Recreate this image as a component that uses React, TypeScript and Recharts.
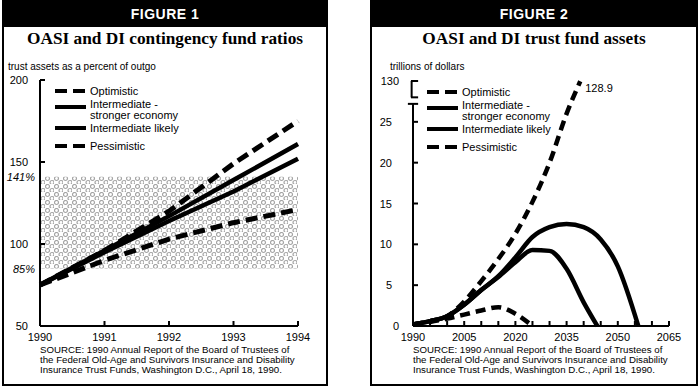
import React from 'react';
import { LineChart, Line, XAxis, YAxis, ReferenceArea, ReferenceLine } from 'recharts';

// Figure 1: contingency fund ratios (percent of outgo)
const years1 = [1990, 1991, 1992, 1993, 1994];
const optimistic1 = [75, 96, 120, 149, 175];
const stronger1 = [75, 96, 117, 139, 161];
const likely1 = [75, 95, 114, 132, 152];
const pessimistic1 = [75, 90, 103, 113, 121];
const yTicks1 = [50, 85, 100, 141, 150, 200];
const yLabels1 = ['50', '85%', '100', '141%', '150', '200'];
const band1 = [85, 141];

// Figure 2: trust fund assets (trillions of dollars)
const optYears2 = [1990, 1995, 2000, 2005, 2010, 2015, 2020, 2025, 2030, 2035, 2039];
const optimistic2 = [0.2, 0.6, 1.2, 3.0, 5.5, 8.2, 11.3, 15.2, 20.0, 26.0, 128.9];
const strongYears2 = [1990, 1995, 2000, 2005, 2010, 2015, 2020, 2025, 2030, 2035, 2040, 2045, 2050, 2056];
const stronger2 = [0.2, 0.6, 1.2, 2.6, 4.4, 6.1, 8.4, 10.9, 12.1, 12.5, 12.1, 10.6, 7.3, 0];
const likelyYears2 = [1990, 1995, 2000, 2005, 2010, 2015, 2020, 2025, 2030, 2035, 2040, 2044];
const likely2 = [0.2, 0.6, 1.2, 2.6, 4.4, 6.0, 7.8, 9.3, 9.2, 7.0, 2.9, 0];
const pessYears2 = [1990, 1995, 2000, 2005, 2010, 2015, 2020, 2025];
const pessimistic2 = [0.2, 0.5, 0.9, 1.4, 1.9, 2.3, 1.5, 0];
const xTicks2 = [1990, 1995, 2000, 2005, 2010, 2015, 2020, 2025, 2030, 2035, 2040, 2045, 2050, 2055, 2060, 2065];
const yTicks2 = [0, 5, 10, 15, 20, 25, 30];
const yLabels2 = ['0', '5', '10', '15', '20', '25', '130'];

const seriesNames = ['Optimistic', 'Intermediate -|stronger economy', 'Intermediate likely', 'Pessimistic'];
const seriesDashed = [true, false, false, true];

const sourceLines = [
  'SOURCE: 1990 Annual Report of the Board of Trustees of',
  'the Federal Old-Age and Survivors Insurance and Disability',
  'Insurance Trust Funds, Washington D.C., April 18, 1990.',
];

// broken axis: values above 27 are squeezed into the 27..30 strip that is labelled 130
const BREAK_LOW = 27;
const BREAK_TOP = 130;
const AXIS_TOP = 30;
const toAxis = (v: number) =>
  v <= BREAK_LOW ? v : BREAK_LOW + ((v - BREAK_LOW) * (AXIS_TOP - BREAK_LOW)) / (BREAK_TOP - BREAK_LOW);

const FONT = "'Liberation Sans', Arial, sans-serif";

const data1 = years1.map((year, i) => ({
  year,
  opt: optimistic1[i],
  strong: stronger1[i],
  likely: likely1[i],
  pess: pessimistic1[i],
}));

const toRows = (years: number[], vals: number[]) => years.map((year, i) => ({ year, v: toAxis(vals[i]), raw: vals[i] }));
const opt2 = toRows(optYears2, optimistic2);
const strong2 = toRows(strongYears2, stronger2);
const likely2Rows = toRows(likelyYears2, likely2);
const pess2 = toRows(pessYears2, pessimistic2);

function YTick1(props: any) {
  const { x, y, payload } = props;
  const i = yTicks1.indexOf(payload.value);
  const pct = yLabels1[i].endsWith('%');
  return (
    <g>
      {!pct && payload.value !== 50 && <line x1={x} x2={x + 5} y1={y} y2={y} stroke="#000" strokeWidth={2} />}
      <text
        x={pct ? x - 5 : x - 12}
        y={y + 4}
        textAnchor="end"
        fontSize={11}
        fontStyle={pct ? 'italic' : 'normal'}
        fontFamily={FONT}
        fill="#000"
      >
        {yLabels1[i]}
      </text>
    </g>
  );
}

function XTick(props: any) {
  const { x, y, payload, first, every } = props;
  const showLabel = (payload.value - first) % every === 0;
  return (
    <g>
      {payload.value !== first && <line x1={x} x2={x} y1={y} y2={y - 5} stroke="#000" strokeWidth={2} />}
      {showLabel && (
        <text x={x} y={y + 15} textAnchor="middle" fontSize={11} fontFamily={FONT} fill="#000">
          {payload.value}
        </text>
      )}
    </g>
  );
}

function YTick2(props: any) {
  const { x, y, payload } = props;
  const i = yTicks2.indexOf(payload.value);
  const edge = payload.value === 0 || payload.value === AXIS_TOP;
  return (
    <g>
      {!edge && <line x1={x} x2={x + 5} y1={y} y2={y} stroke="#000" strokeWidth={2} />}
      <text x={edge ? x - 14 : x - 21} y={y + 4} textAnchor="end" fontSize={11} fontFamily={FONT} fill="#000">
        {yLabels2[i]}
      </text>
    </g>
  );
}

function Legend({ left, top }: { left: number; top: number }) {
  const offsets = [0, 16, 37, 55];
  return (
    <svg width={160} height={70} style={{ position: 'absolute', left, top, overflow: 'visible' }}>
      {seriesNames.map((name, i) => {
        const y = offsets[i];
        const parts = name.split('|');
        return (
          <g key={name}>
            <line
              x1={0}
              x2={31}
              y1={y}
              y2={y}
              stroke="#000"
              strokeWidth={4}
              strokeDasharray={seriesDashed[i] ? '12 6' : undefined}
            />
            {parts.length === 1 ? (
              <text x={35} y={y + 4} fontSize={11} fontFamily={FONT}>
                {name}
              </text>
            ) : (
              <text x={35} y={y + 1} fontSize={11} fontFamily={FONT}>
                <tspan x={35}>{parts[0]}</tspan>
                <tspan x={35} dy={11}>
                  {parts[1]}
                </tspan>
              </text>
            )}
          </g>
        );
      })}
    </svg>
  );
}

function Panel({ left, width, figure, title }: { left: number; width: number; figure: string; title: string }) {
  return (
    <div
      style={{
        position: 'absolute',
        left,
        top: 0,
        width,
        height: 386,
        border: '2px solid #000',
        borderTop: 'none',
        boxSizing: 'border-box',
      }}
    >
      <div
        style={{
          background: '#000',
          color: '#fff',
          height: 27,
          lineHeight: '29px',
          textAlign: 'center',
          fontFamily: FONT,
          fontWeight: 'bold',
          fontSize: 14,
          letterSpacing: 0.5,
        }}
      >
        {figure}
      </div>
      <div
        style={{
          position: 'absolute',
          top: 29,
          left: 0,
          right: 0,
          textAlign: 'center',
          fontFamily: "'Liberation Serif', 'Times New Roman', serif",
          fontWeight: 'bold',
          fontSize: 17.3,
          lineHeight: '20px',
        }}
      >
        {title}
      </div>
    </div>
  );
}

function Source({ left }: { left: number }) {
  return (
    <div
      style={{
        position: 'absolute',
        left,
        top: 345,
        fontFamily: FONT,
        fontSize: 9.7,
        lineHeight: '10px',
        whiteSpace: 'nowrap',
      }}
    >
      {sourceLines.map((l) => (
        <div key={l}>{l}</div>
      ))}
    </div>
  );
}

export default function App() {
  return (
    <div style={{ position: 'absolute', left: 0, top: 0, width: 700, height: 388, background: '#fff', overflow: 'hidden' }}>
      <svg width={0} height={0} style={{ position: 'absolute' }}>
        <defs>
          <pattern id="dots" width={9} height={8} patternUnits="userSpaceOnUse">
            <circle cx={2.5} cy={2.5} r={2} fill="none" stroke="#a4a4a4" strokeWidth={1.2} />
            <circle cx={7} cy={6.5} r={2} fill="none" stroke="#a4a4a4" strokeWidth={1.2} />
          </pattern>
        </defs>
      </svg>

      <Panel left={2} width={326} figure="FIGURE 1" title="OASI and DI contingency fund ratios" />
      <Panel left={370} width={328} figure="FIGURE 2" title="OASI and DI trust fund assets" />

      <div style={{ position: 'absolute', left: 8, top: 61, fontFamily: FONT, fontSize: 10, lineHeight: '12px' }}>
        trust assets as a percent of outgo
      </div>
      <div style={{ position: 'absolute', left: 390, top: 61, fontFamily: FONT, fontSize: 10, lineHeight: '12px' }}>
        trillions of dollars
      </div>

      <div style={{ position: 'absolute', left: 0, top: 0 }}>
        <LineChart width={330} height={388} data={data1} margin={{ top: 80, right: 32, left: 10, bottom: 42 }}>
          <XAxis
            dataKey="year"
            type="number"
            domain={[1990, 1994]}
            ticks={years1}
            interval={0}
            height={20}
            tickLine={false}
            tickSize={0}
            tickMargin={0}
            axisLine={{ stroke: '#000', strokeWidth: 2 }}
            tick={<XTick first={1990} every={1} />}
          />
          <YAxis
            type="number"
            domain={[50, 200]}
            ticks={yTicks1}
            interval={0}
            width={30}
            tickLine={false}
            tickSize={0}
            tickMargin={0}
            axisLine={{ stroke: '#000', strokeWidth: 2 }}
            tick={<YTick1 />}
          />
          <ReferenceArea x1={1990} x2={1994} y1={band1[0]} y2={band1[1]} fill="url(#dots)" fillOpacity={1} stroke="none" />
          <Line dataKey="pess" stroke="#000" strokeWidth={5} strokeDasharray="12 6" dot={false} isAnimationActive={false} />
          <Line dataKey="likely" stroke="#000" strokeWidth={4.5} dot={false} isAnimationActive={false} />
          <Line dataKey="strong" stroke="#000" strokeWidth={4.5} dot={false} isAnimationActive={false} />
          <Line dataKey="opt" stroke="#000" strokeWidth={5} strokeDasharray="12 6" dot={false} isAnimationActive={false} />
        </LineChart>
      </div>

      <div style={{ position: 'absolute', left: 350, top: 0 }}>
        <LineChart width={350} height={388} margin={{ top: 81, right: 31, left: 33, bottom: 42 }}>
          <XAxis
            dataKey="year"
            type="number"
            domain={[1990, 2065]}
            ticks={xTicks2}
            interval={0}
            height={20}
            tickLine={false}
            tickSize={0}
            tickMargin={0}
            axisLine={{ stroke: '#000', strokeWidth: 2 }}
            tick={<XTick first={1990} every={15} />}
            allowDuplicatedCategory={false}
          />
          <YAxis
            type="number"
            domain={[0, AXIS_TOP]}
            ticks={yTicks2}
            interval={0}
            width={30}
            tickLine={false}
            tickSize={0}
            tickMargin={0}
            axisLine={false}
            tick={<YTick2 />}
          />
          <ReferenceLine segment={[{ x: 1990, y: 0 }, { x: 1990, y: 27.2 }]} stroke="#000" strokeWidth={2} ifOverflow="visible" />
          <ReferenceLine segment={[{ x: 1988.5, y: 27.2 }, { x: 1991.5, y: 27.2 }]} stroke="#000" strokeWidth={2} ifOverflow="visible" />
          <ReferenceLine segment={[{ x: 1989.6, y: 28 }, { x: 1989.6, y: 30 }]} stroke="#000" strokeWidth={2} ifOverflow="visible" />
          <ReferenceLine segment={[{ x: 1989.4, y: 28 }, { x: 1991.5, y: 28 }]} stroke="#000" strokeWidth={2} ifOverflow="visible" />
          <ReferenceLine segment={[{ x: 1989.4, y: 30 }, { x: 1991.5, y: 30 }]} stroke="#000" strokeWidth={2} ifOverflow="visible" />
          <Line data={pess2} dataKey="v" type="monotone" stroke="#000" strokeWidth={4.5} strokeDasharray="10 6" dot={false} isAnimationActive={false} />
          <Line data={likely2Rows} dataKey="v" type="monotone" stroke="#000" strokeWidth={4.5} dot={false} isAnimationActive={false} />
          <Line data={strong2} dataKey="v" type="monotone" stroke="#000" strokeWidth={4.5} dot={false} isAnimationActive={false} />
          <Line
            data={opt2}
            dataKey="v"
            type="monotone"
            stroke="#000"
            strokeWidth={4.5}
            strokeDasharray="10 6"
            dot={false}
            isAnimationActive={false}
            label={(p: any) =>
              p.index === opt2.length - 1 ? (
                <text key="lbl" x={p.x + 5} y={p.y + 11} fontSize={11} fontFamily={FONT} fill="#000">
                  {opt2[p.index].raw}
                </text>
              ) : (
                <g key={`l${p.index}`} />
              )
            }
          />
        </LineChart>
      </div>

      <Legend left={55} top={91} />
      <Legend left={427} top={92} />
      <Source left={40} />
      <Source left={413} />
    </div>
  );
}
